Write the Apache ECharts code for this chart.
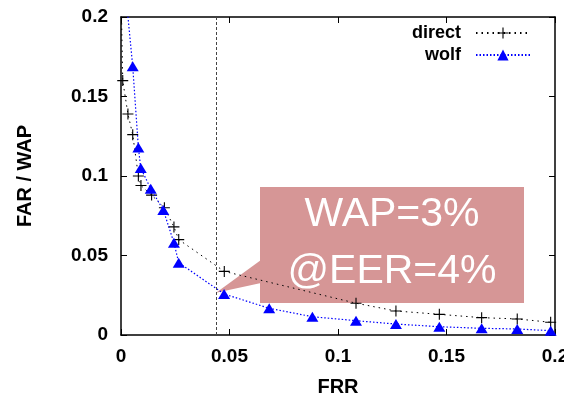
<!DOCTYPE html>
<html>
<head>
<meta charset="utf-8">
<script src="https://cdn.jsdelivr.net/npm/echarts@6/dist/echarts.min.js"></script>
<style>
html,body{margin:0;padding:0;background:#fff;}
#chart{width:564px;height:396px;}
</style>
</head>
<body>
<div id="chart"></div>
<script>
// ---- data ----
const seriesNames = ['direct', 'wolf'];
const directFRR = [0.0001, 0.0008, 0.0032, 0.0054, 0.008, 0.0092, 0.0141, 0.020, 0.0244, 0.0266, 0.0476, 0.1083, 0.1267, 0.1467, 0.1662, 0.1826, 0.198];
const directFAR = [0.21, 0.160, 0.139, 0.126, 0.100, 0.094, 0.088, 0.080, 0.068, 0.060, 0.040, 0.020, 0.0151, 0.013, 0.0109, 0.0101, 0.008];
const wolfFRR = [0.0018, 0.0054, 0.008, 0.0091, 0.0137, 0.0195, 0.0244, 0.0266, 0.0475, 0.0683, 0.0882, 0.1083, 0.1267, 0.1467, 0.1662, 0.1826, 0.198];
const wolfWAP = [0.22, 0.169, 0.118, 0.105, 0.092, 0.0786, 0.058, 0.0455, 0.0258, 0.0168, 0.0115, 0.009, 0.0069, 0.0052, 0.0042, 0.0038, 0.0027];
const eerFRR = 0.0438;
const eerWAP = 0.0266;
const annotationLines = ['WAP=3%', '@EER=4%'];
const axisMin = 0, axisMax = 0.2, axisStep = 0.05;
const xAxisTitle = 'FRR';
const yAxisTitle = 'FAR / WAP';

const FONT = '"Liberation Sans", Arial, Helvetica, sans-serif';
const chart = echarts.init(document.getElementById('chart'), null, {renderer: 'canvas'});

function pairs(xs, ys) { return xs.map((x, i) => [x, ys[i]]); }

const plusPath = 'path://M4.5,0h1v4.5h4.5v1h-4.5v4.5h-1v-4.5h-4.5v-1h4.5z';

const axisLineStyle = {show: true, onZero: false, lineStyle: {color: '#000', width: 1.5}};
const tickStyle = {show: true, inside: true, length: 6, lineStyle: {color: '#000', width: 1}};
const labelStyle = {color: '#000', fontWeight: 'bold', fontSize: 19, fontFamily: FONT};

const option = {
  animation: false,
  backgroundColor: '#fff',
  grid: {left: 121, right: 9, top: 17, bottom: 61, containLabel: false, outerBoundsMode: 'none'},
  legend: {
    data: seriesNames,
    orient: 'vertical',
    align: 'right',
    right: 33,
    top: 24,
    padding: 0,
    itemWidth: 54,
    itemHeight: 14,
    itemGap: 4,
    formatter: name => name + '  ',
    textStyle: {color: '#000', fontWeight: 'bold', fontSize: 18, fontFamily: FONT}
  },
  xAxis: [{
    type: 'value', position: 'bottom', min: axisMin, max: axisMax, interval: axisStep,
    name: xAxisTitle, nameLocation: 'middle', nameGap: 42,
    nameTextStyle: {color: '#000', fontWeight: 'bold', fontSize: 20, fontFamily: FONT},
    axisLine: axisLineStyle, axisTick: tickStyle,
    axisLabel: Object.assign({margin: 12, hideOverlap: false}, labelStyle),
    splitLine: {show: false}
  }, {
    type: 'value', position: 'top', min: axisMin, max: axisMax, interval: axisStep,
    axisLine: axisLineStyle, axisTick: tickStyle, axisLabel: {show: false}, splitLine: {show: false}
  }],
  yAxis: [{
    type: 'value', position: 'left', min: axisMin, max: axisMax, interval: axisStep,
    name: yAxisTitle, nameLocation: 'middle', nameGap: 86, nameRotate: 90,
    nameTextStyle: {color: '#000', fontWeight: 'bold', fontSize: 20, fontFamily: FONT},
    axisLine: axisLineStyle, axisTick: tickStyle,
    axisLabel: Object.assign({margin: 13}, labelStyle),
    splitLine: {show: false}
  }, {
    type: 'value', position: 'right', min: axisMin, max: axisMax, interval: axisStep,
    axisLine: axisLineStyle, axisTick: tickStyle, axisLabel: {show: false}, splitLine: {show: false}
  }],
  series: [{
    name: seriesNames[0], type: 'line', xAxisIndex: 0, yAxisIndex: 0,
    data: pairs(directFRR, directFAR),
    clip: true,
    symbol: plusPath, symbolSize: 11, showAllSymbol: true,
    itemStyle: {color: '#000'},
    lineStyle: {color: '#000', width: 1, type: [1.5, 4]},
    z: 3,
    markLine: {
      silent: true, symbol: 'none', label: {show: false}, precision: 6,
      lineStyle: {color: '#444', width: 1, type: [3, 2]},
      data: [{xAxis: eerFRR}]
    }
  }, {
    name: seriesNames[1], type: 'line', xAxisIndex: 0, yAxisIndex: 0,
    data: pairs(wolfFRR, wolfWAP),
    clip: true,
    symbol: 'triangle', symbolSize: [12, 10], showAllSymbol: true,
    itemStyle: {color: '#0000ff'},
    lineStyle: {color: '#0000ff', width: 1.2, type: [1.5, 2]},
    z: 4
  }]
};
chart.setOption(option);

// annotation callout pointing at the EER operating point
const tip = chart.convertToPixel({xAxisIndex: 0, yAxisIndex: 0}, [eerFRR, eerWAP]);
const box = {x: 260, y: 187, w: 264, h: 116};
const boxColor = '#d69696';
chart.setOption({
  graphic: [{
    type: 'group', z: 100,
    children: [{
      type: 'rect', shape: {x: box.x, y: box.y, width: box.w, height: box.h},
      style: {fill: boxColor}
    }, {
      type: 'polygon', shape: {points: [[box.x + 1, 260], [tip[0], tip[1]], [box.x + 1, 283]]},
      style: {fill: boxColor}
    }, {
      type: 'text', x: box.x + box.w / 2, y: 215,
      style: {text: annotationLines[0], fill: '#fff', font: 'normal 41px ' + FONT, align: 'center', verticalAlign: 'middle'}
    }, {
      type: 'text', x: box.x + box.w / 2, y: 272,
      style: {text: annotationLines[1], fill: '#fff', font: 'normal 41px ' + FONT, align: 'center', verticalAlign: 'middle'}
    }]
  }]
});
</script>
</body>
</html>
